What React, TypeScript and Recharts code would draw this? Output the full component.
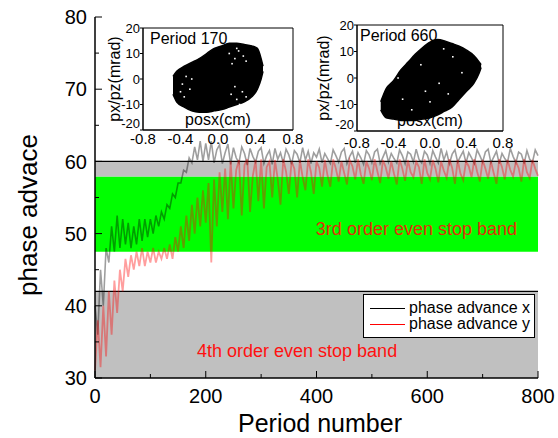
import React from "react";
import {
  ComposedChart,
  Line,
  Area,
  Scatter,
  XAxis,
  YAxis,
  ReferenceArea,
  ReferenceLine,
} from "recharts";

const font = "Arial, 'Liberation Sans', sans-serif";

// period number, every 5 periods
const periods = [
  0, 5, 10, 15, 20, 25, 30, 35, 40, 45, 50, 55, 60, 65, 70, 75, 80, 85, 90, 95,
  100, 105, 110, 115, 120, 125, 130, 135, 140, 145, 150, 155, 160, 165, 170, 175, 180, 185, 190, 195,
  200, 205, 210, 215, 220, 225, 230, 235, 240, 245, 250, 255, 260, 265, 270, 275, 280, 285, 290, 295,
  300, 305, 310, 315, 320, 325, 330, 335, 340, 345, 350, 355, 360, 365, 370, 375, 380, 385, 390, 395,
  400, 405, 410, 415, 420, 425, 430, 435, 440, 445, 450, 455, 460, 465, 470, 475, 480, 485, 490, 495,
  500, 505, 510, 515, 520, 525, 530, 535, 540, 545, 550, 555, 560, 565, 570, 575, 580, 585, 590, 595,
  600, 605, 610, 615, 620, 625, 630, 635, 640, 645, 650, 655, 660, 665, 670, 675, 680, 685, 690, 695,
  700, 705, 710, 715, 720, 725, 730, 735, 740, 745, 750, 755, 760, 765, 770, 775, 780, 785, 790, 795,
  800,
];

const phaseX = [
  40, 36, 45, 40, 48, 46, 51, 47.5, 52.5, 48, 52, 48.5, 51.5, 48, 51, 48.5, 52, 49, 52, 49.5,
  52, 50, 52.5, 51, 53, 52, 54, 53.5, 55.5, 55, 57, 57, 58.8, 58.5, 60.5, 59.8, 62, 60.2, 62.8, 60,
  62.5, 60.2, 62.8, 59.8, 61.6, 62.3, 59.7, 61.2, 62.4, 59.6, 61.9, 60.5, 59.8, 62, 61.1, 59.5, 61.8, 60.7, 59.9, 61.4,
  61.9, 59.7, 60.8, 61.5, 59.6, 61.8, 60.3, 61.2, 59.8, 61.7, 60.9, 59.6, 61.5, 61.0, 59.8, 61.9, 60.2, 61.4, 59.7, 61.2,
  60.6, 61.7, 59.8, 61.1, 60.4, 59.7, 61.6, 60.8, 59.9, 61.3, 61.8, 59.7, 60.7, 61.4, 59.8, 61.2, 60.5, 59.6, 61.5, 60.9,
  59.8, 61.3, 61.7, 59.7, 60.6, 61.5, 59.9, 61.1, 60.4, 59.8, 61.6, 60.8, 59.7, 61.3, 61.0, 59.9, 61.7, 60.3, 59.8, 61.4,
  60.9, 59.7, 61.5, 60.6, 59.8, 61.8, 60.2, 61.3, 59.7, 61.0, 61.6, 59.9, 60.7, 61.4, 59.8, 61.2, 60.5, 59.7, 61.6, 60.8,
  59.9, 61.3, 61.7, 59.8, 60.6, 61.4, 59.7, 61.1, 60.4, 59.9, 61.8, 60.7, 59.8, 61.3, 61.0, 59.7, 61.5, 60.3, 59.9, 61.6,
  60.8,
];

const phaseY = [
  31, 38, 31.5, 40, 33, 42, 36, 43.5, 39, 45, 42, 46.5, 44, 47, 45, 47.5, 45.5, 48, 45.5, 47.5,
  46, 48, 46, 47.5, 46.5, 48, 46.5, 48.5, 46.5, 49.5, 47.5, 51, 48, 52.5, 49, 54, 50, 55, 51, 56,
  51.5, 57, 46, 57.5, 51, 58.5, 53, 59, 52, 60, 53.5, 58.8, 60.2, 52.5, 59.5, 60.3, 53, 58, 60.2, 54.5,
  60.3, 53.5, 59.2, 60, 55, 60.2, 57.5, 54, 60.3, 58.6, 55.5, 60, 59, 55, 60.2, 57.8, 56, 60.3, 58.5, 55.5,
  60, 59.1, 56.5, 60.2, 58, 56.5, 60.3, 59, 57.2, 60, 58.4, 56.8, 60.2, 59.3, 57.5, 60.3, 58.2, 56.9, 60, 59,
  57.4, 60.3, 58.6, 57, 60.2, 59.2, 57.6, 60, 58.3, 56.8, 60.3, 59, 57.3, 60.2, 58.5, 57.8, 60, 59.2, 56.9, 60.3,
  58.4, 57.5, 60.2, 59, 57.1, 60, 58.7, 57.7, 60.3, 59.1, 56.9, 60.2, 58.3, 57.4, 60, 59.3, 57.8, 60.3, 58.6, 57.2,
  60.2, 59, 57.6, 60, 58.4, 56.9, 60.3, 59.2, 57.5, 60.2, 58.8, 57.9, 60, 59.1, 57.2, 60.3, 58.5, 57.7, 60.2, 59,
  58,
];

const xTicks = [0, 100, 200, 300, 400, 500, 600, 700, 800];
const yTicks = [30, 35, 40, 45, 50, 55, 60, 65, 70, 75, 80];

// stop bands (phase advance)
const band4th = [30, 42];
const band3rd = [47.5, 57.9];
const bandTop = [57.9, 60];

// phase space outlines: [lower, upper] px/pz (mrad) for each posx (cm)
const blob170 = [
  { x: -0.48, r: [-6, 1] },
  { x: -0.44, r: [-9, 3] },
  { x: -0.36, r: [-11, 5] },
  { x: -0.28, r: [-12.5, 6.5] },
  { x: -0.2, r: [-13, 8] },
  { x: -0.12, r: [-13, 10] },
  { x: -0.04, r: [-12.5, 12] },
  { x: 0.04, r: [-12, 13] },
  { x: 0.12, r: [-11, 14] },
  { x: 0.2, r: [-10, 14] },
  { x: 0.28, r: [-9, 13.5] },
  { x: 0.36, r: [-7, 13] },
  { x: 0.42, r: [-4, 12] },
  { x: 0.46, r: [0, 8] },
  { x: 0.48, r: [3, 5] },
];

const blob660 = [
  { x: -0.54, r: [-12, -9] },
  { x: -0.48, r: [-15, -4] },
  { x: -0.4, r: [-15.5, -1] },
  { x: -0.32, r: [-16, 3] },
  { x: -0.24, r: [-16, 6] },
  { x: -0.16, r: [-16, 9] },
  { x: -0.08, r: [-15.5, 11.5] },
  { x: 0, r: [-15, 13.5] },
  { x: 0.08, r: [-14, 14.5] },
  { x: 0.16, r: [-12.5, 14] },
  { x: 0.24, r: [-11, 13] },
  { x: 0.32, r: [-8, 12] },
  { x: 0.4, r: [-5, 10.5] },
  { x: 0.48, r: [-2, 8.5] },
  { x: 0.54, r: [2, 6] },
  { x: 0.56, r: [4, 5] },
];

const holes170 = [
  { x: 0.12, y: 10 }, { x: 0.18, y: 8 }, { x: 0.22, y: 11 }, { x: 0.27, y: 9 },
  { x: 0.15, y: 6 }, { x: 0.3, y: 7 }, { x: 0.2, y: 12 },
  { x: 0.14, y: -6 }, { x: 0.2, y: -8 }, { x: 0.26, y: -5 }, { x: 0.18, y: -3 },
  { x: 0.3, y: -7 }, { x: 0.23, y: -10 },
  { x: -0.38, y: -2 }, { x: -0.34, y: 1 }, { x: -0.4, y: -5 }, { x: -0.3, y: -4 },
  { x: -0.36, y: -7 }, { x: -0.28, y: 0 },
];

const holes660 = [
  { x: -0.3, y: -8 }, { x: -0.1, y: 5 }, { x: 0.1, y: -2 }, { x: 0.25, y: 8 },
  { x: -0.2, y: -12 }, { x: 0, y: -9 }, { x: 0.35, y: 2 }, { x: -0.35, y: 0 },
  { x: 0.15, y: 11 }, { x: -0.05, y: -5 }, { x: 0.2, y: -6 },
];

const insetXTicks = [-0.8, -0.4, 0, 0.4, 0.8];
const insetYTicks = [-20, -10, 0, 10, 20];

const rows = periods.map((p, i) => ({ period: p, x: phaseX[i], y: phaseY[i] }));

const BottomTick = (p: any) => {
  const v = p.payload.value;
  const major = v % 200 === 0;
  const ay = p.y - 11;
  return (
    <g>
      <line x1={p.x} x2={p.x} y1={ay} y2={ay - (major ? 7 : 4)} stroke="#000" />
      {major && (
        <text x={p.x} y={p.y} dy="0.71em" textAnchor="middle" fontSize={20} fill="#000" fontFamily={font}>
          {v}
        </text>
      )}
    </g>
  );
};

const TopTick = (p: any) => {
  const major = p.payload.value % 200 === 0;
  return <line x1={p.x} x2={p.x} y1={p.y} y2={p.y + (major ? 7 : 4)} stroke="#000" />;
};

const LeftTick = (p: any) => {
  const v = p.payload.value;
  const major = v % 10 === 0;
  const ax = p.x + 8;
  return (
    <g>
      <line x1={ax} x2={ax + (major ? 7 : 4)} y1={p.y} y2={p.y} stroke="#000" />
      {major && (
        <text x={p.x} y={p.y} dy="0.36em" textAnchor="end" fontSize={20} fill="#000" fontFamily={font}>
          {v}
        </text>
      )}
    </g>
  );
};

const RightTick = (p: any) => {
  const major = p.payload.value % 10 === 0;
  return <line x1={p.x} x2={p.x - (major ? 7 : 4)} y1={p.y} y2={p.y} stroke="#000" />;
};

const InsetYTick = (p: any) => {
  const v = p.payload.value;
  return (
    <text x={p.x} y={p.y - (v === -20 ? 7 : 0)} dy="0.36em" textAnchor="end" fontSize={13} fill="#000" fontFamily={font}>
      {v}
    </text>
  );
};

const Hole = (p: any) => <rect x={p.cx - 0.8} y={p.cy - 0.8} width={1.6} height={1.6} fill="#fff" />;

type InsetProps = {
  left: number;
  top: number;
  right: number;
  bottom: number;
  title: string;
  blob: { x: number; r: number[] }[];
  holes: { x: number; y: number }[];
  labelX: number;
  xGap: number;
  xFont: number;
  titleDx: number;
};

function Inset({ left, top, right, bottom, title, blob, holes, labelX, xGap, xFont, titleDx }: InsetProps) {
  const ml = 56;
  const mt = 10;
  const mr = 10;
  const mb = 26;
  const w = right - left;
  const h = bottom - top;
  return (
    <div style={{ position: "absolute", left: left - ml, top: top - mt }}>
      <ComposedChart width={ml + w + mr} height={mt + h + mb} data={blob} margin={{ top: mt, right: mr, bottom: 0, left: 0 }}>
        <XAxis
          dataKey="x"
          type="number"
          domain={[-0.8, 0.8]}
          ticks={insetXTicks}
          interval={0}
          height={mb}
          tickSize={0}
          tickMargin={0}
          axisLine={{ stroke: "#000" }}
          tick={(p: any) => (
            <text x={p.x} y={p.y + xGap} dy="0.71em" textAnchor="middle" fontSize={xFont} fill="#000" fontFamily={font}>
              {Number(p.payload.value).toFixed(1)}
            </text>
          )}
          label={() => (
            <text x={ml + w / 2} y={mt + h - 5} textAnchor="middle" fontSize={16} fill="#000" fontFamily={font}>
              posx(cm)
            </text>
          )}
        />
        <YAxis
          type="number"
          domain={[-20, 20]}
          ticks={insetYTicks}
          interval={0}
          width={ml}
          tickSize={3}
          tickMargin={0}
          tickLine={{ stroke: "#000" }}
          axisLine={{ stroke: "#000" }}
          tick={InsetYTick}
          label={() => (
            <text
              transform={`translate(${labelX - (left - ml)}, ${mt + h / 2}) rotate(-90)`}
              textAnchor="middle"
              dy="0.35em"
              fontSize={16}
              fill="#000"
              fontFamily={font}
            >
              px/pz(mrad)
            </text>
          )}
        />
        <Area
          dataKey="r"
          type="monotone"
          stroke="#000"
          strokeWidth={1.5}
          fill="#000"
          fillOpacity={1}
          dot={false}
          activeDot={false}
          isAnimationActive={false}
        />
        <Scatter data={holes} dataKey="y" shape={Hole} isAnimationActive={false} />
        <ReferenceArea
          x1={-0.8}
          x2={0.8}
          y1={-20}
          y2={20}
          fill="none"
          stroke="#000"
          strokeWidth={1}
          label={() => (
            <text x={ml + titleDx} y={mt + 16} fontSize={16} fill="#000" fontFamily={font}>
              {title}
            </text>
          )}
        />
      </ComposedChart>
    </div>
  );
}

export default function App() {
  return (
    <div style={{ position: "absolute", left: 0, top: 0, width: 558, height: 438, background: "#fff", fontFamily: font }}>
      <ComposedChart width={558} height={438} data={rows} margin={{ top: 17, right: 20, bottom: 0, left: 0 }}>
        <ReferenceArea y1={band4th[0]} y2={band4th[1]} fill="#c0c0c0" fillOpacity={1}
          label={() => (
            <text x={197} y={357} fontSize={18} fill="#ff1010" fontFamily={font}>4th order even stop band</text>
          )}
        />
        <ReferenceArea y1={band3rd[0]} y2={band3rd[1]} fill="#00ff00" fillOpacity={1}
          label={() => (
            <text x={517} y={235} textAnchor="end" fontSize={18} fill="#e03008" fontFamily={font}>3rd order even stop band</text>
          )}
        />
        <ReferenceArea y1={bandTop[0]} y2={bandTop[1]} fill="#c0c0c0" fillOpacity={1} />
        <ReferenceLine y={band4th[1]} stroke="#000" strokeWidth={1.2} />
        <ReferenceLine y={bandTop[1]} stroke="#000" strokeWidth={1.2} />
        <XAxis
          dataKey="period"
          type="number"
          domain={[0, 800]}
          ticks={xTicks}
          interval={0}
          height={60}
          tickSize={0}
          tickMargin={11}
          axisLine={{ stroke: "#000", strokeWidth: 1.5 }}
          tick={BottomTick}
          label={() => (
            <text x={320} y={432} textAnchor="middle" fontSize={25} fill="#000" fontFamily={font}>Period number</text>
          )}
        />
        <XAxis
          xAxisId="top"
          orientation="top"
          type="number"
          domain={[0, 800]}
          ticks={xTicks}
          interval={0}
          height={0}
          tickSize={0}
          tickMargin={0}
          axisLine={{ stroke: "#000", strokeWidth: 1.5 }}
          tick={TopTick}
        />
        <YAxis
          type="number"
          domain={[30, 80]}
          ticks={yTicks}
          interval={0}
          width={95}
          tickSize={0}
          tickMargin={8}
          axisLine={{ stroke: "#000", strokeWidth: 1.5 }}
          tick={LeftTick}
          label={() => (
            <text transform="translate(37, 215) rotate(-90)" textAnchor="middle" fontSize={26} fill="#000" fontFamily={font}>
              phase advace
            </text>
          )}
        />
        <YAxis
          yAxisId="right"
          orientation="right"
          type="number"
          domain={[30, 80]}
          ticks={yTicks}
          interval={0}
          width={0}
          tickSize={0}
          tickMargin={0}
          axisLine={{ stroke: "#000", strokeWidth: 1.5 }}
          tick={RightTick}
        />
        <Line dataKey="x" name="phase advance x" type="linear" stroke="#000" strokeOpacity={0.38} strokeWidth={1.6}
          dot={false} activeDot={false} isAnimationActive={false} />
        <Line dataKey="y" name="phase advance y" type="linear" stroke="#ff0000" strokeOpacity={0.38} strokeWidth={1.8}
          dot={false} activeDot={false} isAnimationActive={false} />
      </ComposedChart>

      <Inset left={143} top={28} right={293} bottom={130} title="Period 170" blob={blob170} holes={holes170}
        labelX={114} xGap={3} xFont={15} titleDx={7} />
      <Inset left={357} top={25} right={503} bottom={131} title="Period 660" blob={blob660} holes={holes660}
        labelX={323} xGap={6} xFont={15} titleDx={3} />

      <div
        style={{
          position: "absolute",
          left: 363,
          top: 294,
          width: 172,
          height: 44,
          boxSizing: "border-box",
          border: "1px solid #000",
          background: "#fff",
          padding: "5px 0 0 6px",
          fontSize: 16,
          lineHeight: "16px",
          color: "#000",
        }}
      >
        {[
          { name: "phase advance x", color: "#000" },
          { name: "phase advance y", color: "#ff0000" },
        ].map((s) => (
          <div key={s.name} style={{ display: "flex", alignItems: "center", height: 16 }}>
            <span style={{ display: "inline-block", width: 35, height: 0, borderTop: `1.5px solid ${s.color}`, marginRight: 4 }} />
            <span>{s.name}</span>
          </div>
        ))}
      </div>
    </div>
  );
}
